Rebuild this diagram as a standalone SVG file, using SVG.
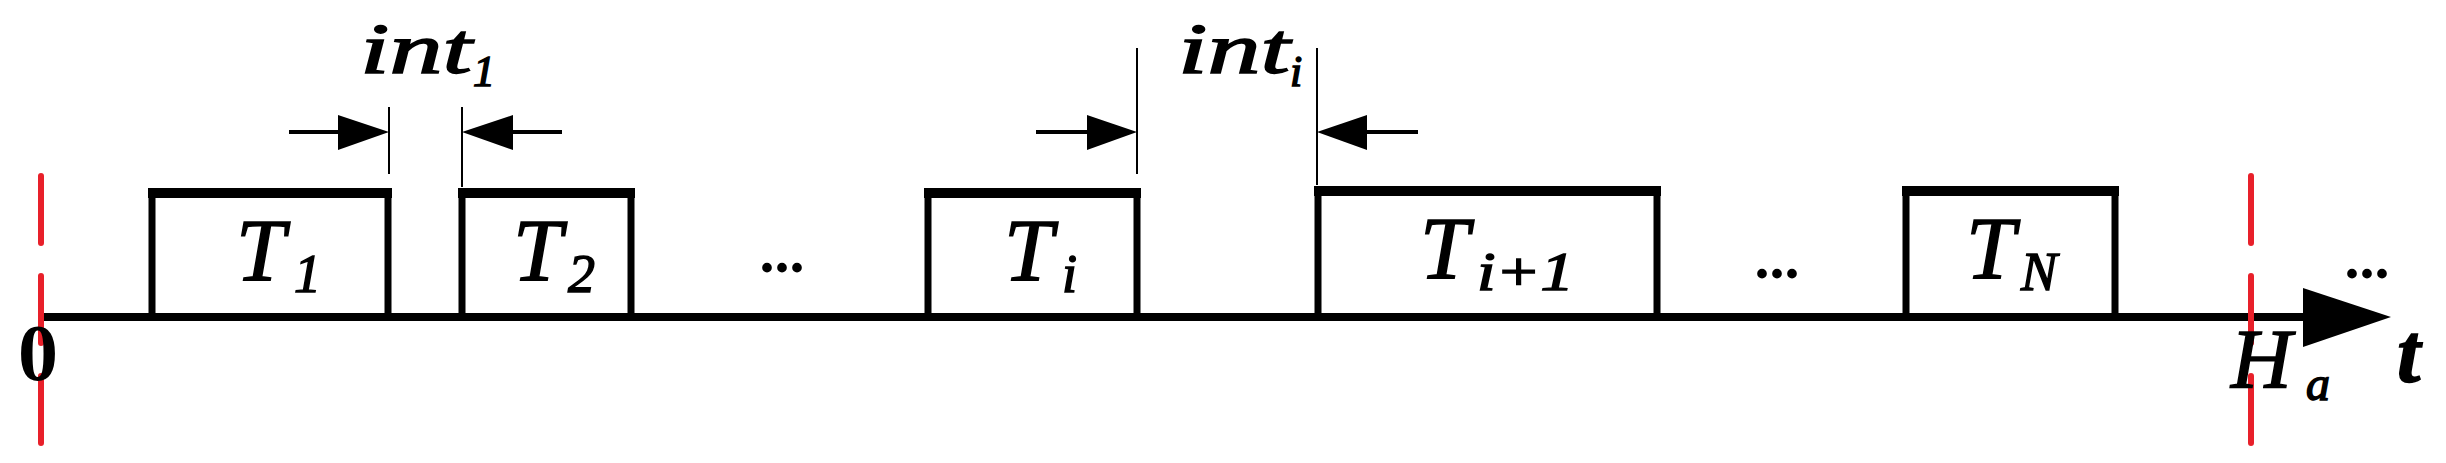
<svg xmlns="http://www.w3.org/2000/svg" width="2446" height="463" viewBox="0 0 2446 463">
<style>
.box{fill:none;stroke:#000;stroke-width:7}
.top{stroke:#000;stroke-width:10}
.thin{stroke:#000;stroke-width:2}
.red{stroke:#e8202a;stroke-width:6;stroke-dasharray:67 33;stroke-linecap:round}
.m{font-family:"Liberation Serif",serif;font-style:italic;fill:#000;stroke:#000;stroke-width:1.5}
.dots{font-family:"Liberation Serif",serif;font-weight:bold;font-size:60px;fill:#000}
</style>
<g id="axis">
<line x1="43" y1="317" x2="2310" y2="317" stroke="#000" stroke-width="8"/>
<path d="M2303,288 L2391,317 L2303,347 z" fill="#000"/>
</g>
<g id="box1"><rect class="box" x="152" y="192" width="236" height="125"/><line class="top" x1="148" y1="193" x2="392" y2="193"/>
<text class="m" x="236" y="280" font-size="88">T</text><text class="m" x="294" y="292" font-size="54" font-style="normal">1</text></g>
<g id="box2"><rect class="box" x="462" y="192" width="169" height="125"/><line class="top" x1="458" y1="193" x2="635" y2="193"/>
<text class="m" x="513" y="280" font-size="88">T</text><text class="m" x="568" y="292" font-size="54" font-style="normal">2</text></g>
<g id="boxi"><rect class="box" x="928" y="192" width="209" height="125"/><line class="top" x1="924" y1="193" x2="1141" y2="193"/>
<text class="m" x="1004" y="280" font-size="88">T</text><text class="m" x="1062" y="292" font-size="54">i</text></g>
<g id="boxi1"><rect class="box" x="1318" y="192" width="339" height="125"/><line class="top" x1="1314" y1="191" x2="1661" y2="191"/>
<text class="m" x="1420" y="278" font-size="88">T</text><text class="m" x="1477" y="290" font-size="54" textLength="97" lengthAdjust="spacingAndGlyphs">i+1</text></g>
<g id="boxN"><rect class="box" x="1906" y="192" width="209" height="125"/><line class="top" x1="1902" y1="191" x2="2119" y2="191"/>
<text class="m" x="1966" y="278" font-size="88">T</text><text class="m" x="2021" y="290" font-size="54">N</text></g>
<g id="dots">
<text class="dots" x="782" y="272" text-anchor="middle">...</text>
<text class="dots" x="1777" y="278" text-anchor="middle">...</text>
<text class="dots" x="2367" y="278" text-anchor="middle">...</text>
</g>
<g id="markers">
<line class="red" x1="41" y1="176" x2="41" y2="443"/>
<line class="red" x1="2251" y1="176" x2="2251" y2="443"/>
</g>
<g id="connectors">
<line class="thin" x1="389" y1="107" x2="389" y2="174"/>
<line class="thin" x1="462" y1="107" x2="462" y2="187"/>
<line class="thin" x1="1137" y1="48" x2="1137" y2="174"/>
<line class="thin" x1="1317" y1="48" x2="1317" y2="185"/>
<g stroke="#000" stroke-width="4">
<line x1="289" y1="132" x2="340" y2="132"/><path d="M338,115 L389,132 L338,150 z" fill="#000" stroke="none"/>
<line x1="562" y1="132" x2="511" y2="132"/><path d="M513,115 L462,132 L513,150 z" fill="#000" stroke="none"/>
<line x1="1036" y1="132" x2="1088" y2="132"/><path d="M1087,115 L1137,132 L1087,150 z" fill="#000" stroke="none"/>
<line x1="1418" y1="132" x2="1366" y2="132"/><path d="M1367,115 L1317,132 L1367,150 z" fill="#000" stroke="none"/>
</g>
</g>
<g id="labels">
<text class="m" x="360" y="73" font-size="72" textLength="112" lengthAdjust="spacingAndGlyphs">int</text><text class="m" x="473" y="86" font-size="44">1</text>
<text class="m" x="1178" y="73" font-size="72" textLength="112" lengthAdjust="spacingAndGlyphs">int</text><text class="m" x="1290" y="86" font-size="44">i</text>
<text x="38" y="380" font-family="Liberation Serif,serif" font-size="80" font-weight="bold" text-anchor="middle">0</text>
<text class="m" x="2231" y="388" font-size="84">H</text><text class="m" x="2306" y="400" font-size="48">a</text>
<text class="m" x="2397" y="382" font-size="84" font-weight="bold">t</text>
</g>
</svg>
